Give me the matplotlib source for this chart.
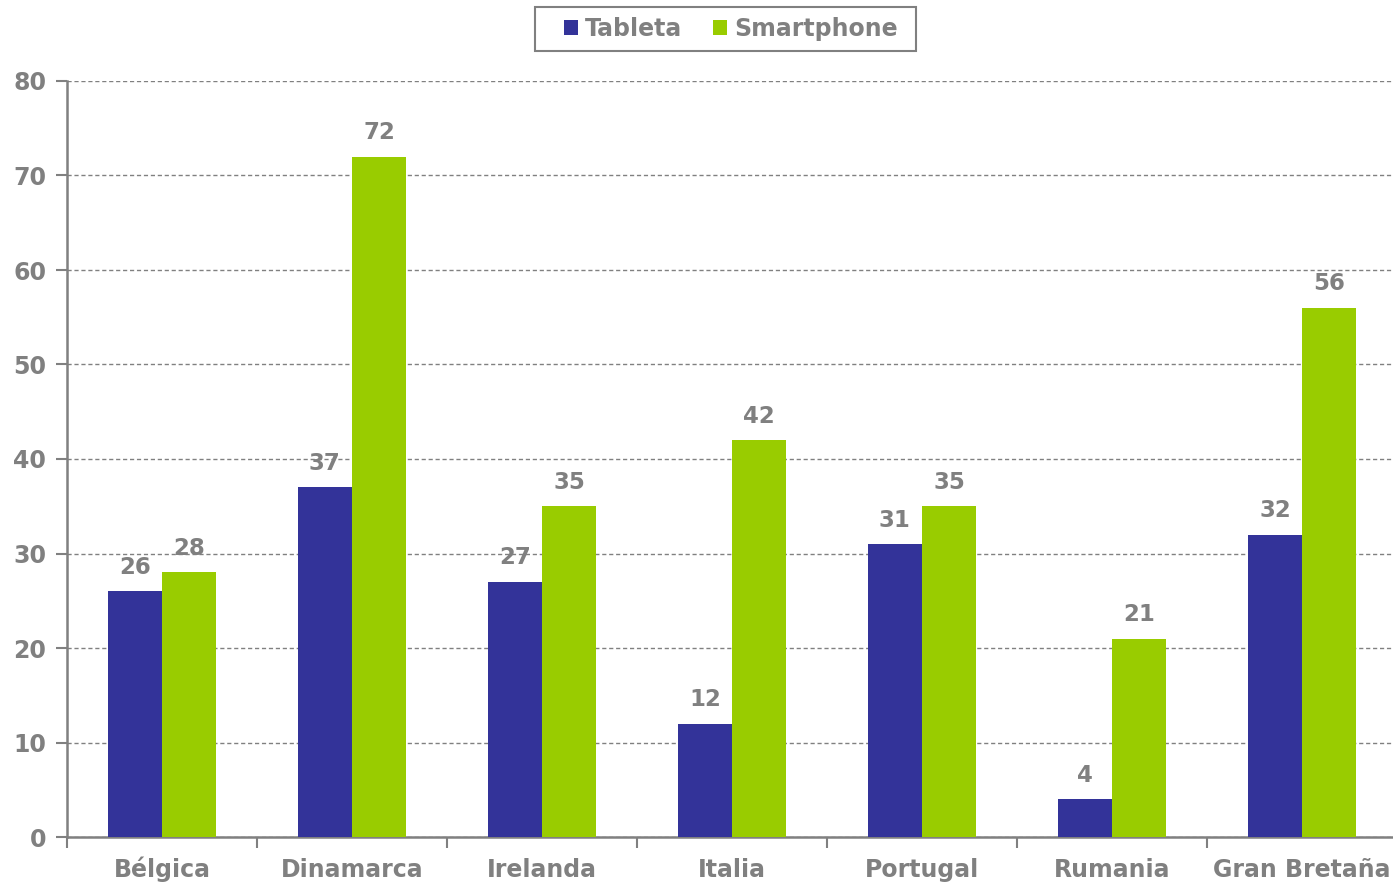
import matplotlib.pyplot as plt
from matplotlib.patches import Rectangle
import numpy as np

paises = ["Bélgica", "Dinamarca", "Irelanda", "Italia", "Portugal", "Rumania", "Gran Bretaña"]
tableta = [26, 37, 27, 12, 31, 4, 32]
smartphone = [28, 72, 35, 42, 35, 21, 56]

gris = "#808080"
azul = "#333399"
verde = "#99cc00"

plt.rcParams["font.family"] = "DejaVu Sans"
plt.rcParams["font.weight"] = "bold"

W, H = 1393, 888
fig = plt.figure(figsize=(W / 100, H / 100), dpi=100)
ax = fig.add_axes([67 / W, 1 - 837 / H, 1330 / W, (837 - 81) / H])

x = np.arange(len(paises))
w = 0.285
b1 = ax.bar(x - w / 2, tableta, w, color=azul, label="Tableta", zorder=3)
b2 = ax.bar(x + w / 2, smartphone, w, color=verde, label="Smartphone", zorder=3)

for bars in (b1, b2):
    for r in bars:
        ax.annotate(f"{r.get_height():.0f}", (r.get_x() + r.get_width() / 2, r.get_height()),
                    xytext=(0, 9), textcoords="offset points", ha="center", va="bottom",
                    color=gris, fontsize=16.5, fontweight="bold", zorder=4)

ax.set_xlim(-0.5, len(paises) - 0.5)
ax.set_ylim(0, 80)
ax.set_yticks(range(0, 81, 10))
ax.yaxis.grid(True, linestyle=(0, (3, 2)), color=gris, linewidth=1, zorder=0)

# category labels centred, tick marks on the boundaries between groups
ax.set_xticks(x)
ax.set_xticklabels(paises, va="baseline")
ax.tick_params(axis="x", length=0, pad=28.5, labelsize=17, labelcolor=gris)
ax.set_xticks(np.arange(-0.5, len(paises), 1), minor=True)
ax.tick_params(axis="x", which="minor", length=8, width=1.5, color=gris)
ax.tick_params(axis="y", length=8, width=1.5, color=gris, labelsize=17, labelcolor=gris, pad=7)

for s in ("top", "right"):
    ax.spines[s].set_visible(False)
for s in ("left", "bottom"):
    ax.spines[s].set_color(gris)
    ax.spines[s].set_linewidth(1.8)

leg = fig.legend(loc="center", bbox_to_anchor=(731 / W, 1 - 29 / H), ncol=2,
                 fontsize=17, frameon=False, handlelength=0.6, handleheight=0.6,
                 handletextpad=0.3, columnspacing=1.3)
for t in leg.get_texts():
    t.set_color(gris)
fig.patches.append(Rectangle((535 / W, 1 - 51 / H), 381 / W, 44 / H, transform=fig.transFigure,
                             facecolor="none", edgecolor=gris, linewidth=1.5))

fig.savefig("out.png", dpi=100)
